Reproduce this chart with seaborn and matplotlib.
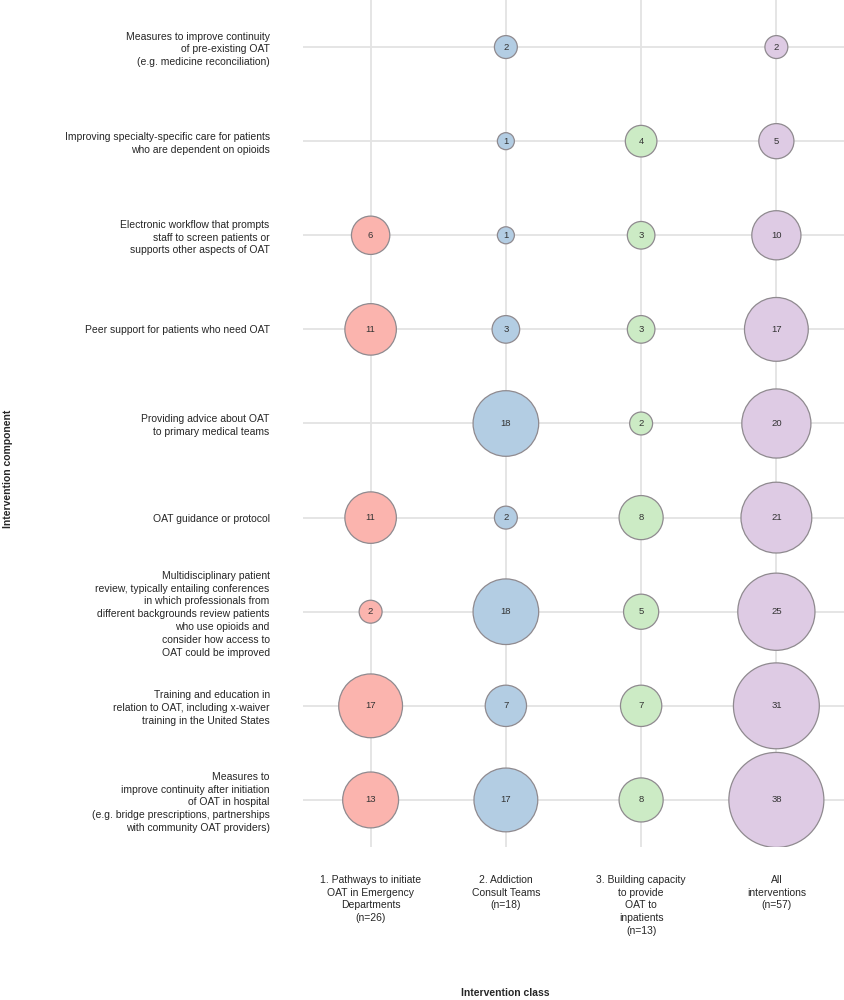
import pandas as pd
import numpy as np
import matplotlib
matplotlib.use("Agg")
import matplotlib.pyplot as plt
import seaborn as sns

# --- datos ---
componentes = [
    "Measures to improve continuity\nof pre-existing OAT\n(e.g. medicine reconciliation)",
    "Improving specialty-specific care for patients\nwho are dependent on opioids",
    "Electronic workflow that prompts\nstaff to screen patients or\nsupports other aspects of OAT",
    "Peer support for patients who need OAT",
    "Providing advice about OAT\nto primary medical teams",
    "OAT guidance or protocol",
    "Multidisciplinary patient\nreview, typically entailing conferences\nin which professionals from\ndifferent backgrounds review patients\nwho use opioids and\nconsider how access to\nOAT could be improved",
    "Training and education in\nrelation to OAT, including x-waiver\ntraining in the United States",
    "Measures to\nimprove continuity after initiation\nof OAT in hospital\n(e.g. bridge prescriptions, partnerships\nwith community OAT providers)",
]

clases = [
    "1. Pathways to initiate\nOAT in Emergency\nDepartments\n(n=26)",
    "2. Addiction\nConsult Teams\n(n=18)",
    "3. Building capacity\nto provide\nOAT to\ninpatients\n(n=13)",
    "All\ninterventions\n(n=57)",
]

# conteos por clase (mismo orden que componentes), 0 = sin circulo
ed = [0, 0, 6, 11, 0, 11, 2, 17, 13]
act = [2, 1, 1, 3, 18, 2, 18, 7, 17]
bc = [0, 4, 3, 3, 2, 8, 5, 7, 8]
todas = [2, 5, 10, 17, 20, 21, 25, 31, 38]

colores = ["#FBB4AE", "#B3CDE3", "#CCEBC5", "#DECBE4"]

# --- formato largo ---
filas = []
for j, serie in enumerate([ed, act, bc, todas]):
    for i, v in enumerate(serie):
        if v > 0:
            filas.append({"clase": j, "componente": i, "n": v, "grupo": clases[j]})
df = pd.DataFrame(filas)

sns.set_style("white")
plt.rcParams["font.family"] = ["Liberation Sans", "DejaVu Sans"]

fig = plt.figure(figsize=(8.44, 10), dpi=100)
ax = fig.add_axes([0.359, 0.153, 0.641, 0.847])

ax.grid(True, color="#e3e3e3", linewidth=1.3, zorder=0)
ax.set_axisbelow(True)

sns.scatterplot(data=df, x="clase", y="componente", hue="grupo", size="n",
                sizes=(150, 4680), size_norm=(1, 38), palette=colores,
                hue_order=clases, edgecolor="#8f8a8f", linewidth=0.9,
                alpha=1, legend=False, ax=ax, zorder=3)

for _, r in df.iterrows():
    ax.text(r["clase"], r["componente"], str(r["n"]), ha="center", va="center",
            fontsize=6.8, color="#333333", zorder=4)

ax.set_xlim(-0.5, 3.5)
ax.set_ylim(8.5, -0.5)
ax.set_xticks(range(len(clases)))
ax.set_xticklabels(clases, fontsize=7.5, linespacing=1.35, va="top")
ax.set_yticks(range(len(componentes)))
ax.set_yticklabels(componentes, fontsize=7.5, linespacing=1.35, ha="right")
ax.tick_params(axis="x", length=0, pad=20)
ax.tick_params(axis="y", length=0, pad=24)
for s in ax.spines.values():
    s.set_visible(False)

ax.set_xlabel("Intervention class", fontsize=7.5, fontweight="bold", va="center")
ax.set_ylabel("Intervention component", fontsize=7.5, fontweight="bold", va="center")
ax.xaxis.set_label_coords(0.373, -0.172)
ax.yaxis.set_label_coords(-0.545, 0.447)

fig.savefig("out.png", dpi=100)
